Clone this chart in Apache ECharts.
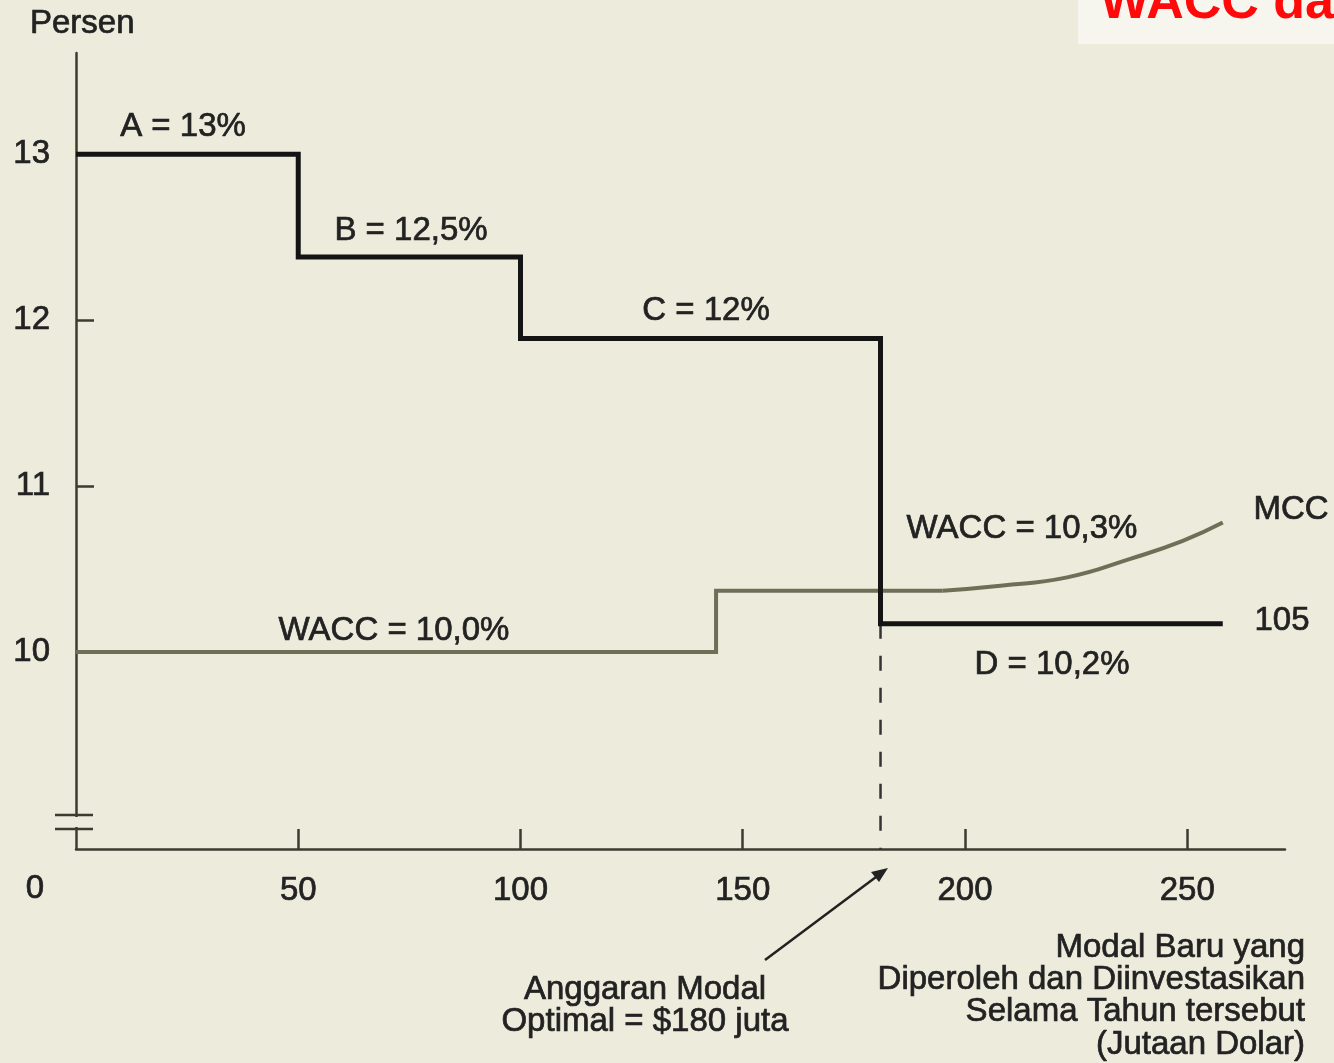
<!DOCTYPE html>
<html>
<head>
<meta charset="utf-8">
<title>MCC dan IOS</title>
<script src="https://cdn.jsdelivr.net/npm/echarts@6.0.0/dist/echarts.min.js"></script>
<style>
html, body { margin: 0; padding: 0; background: #ecebdc; }
#main { width: 1334px; height: 1063px; }
</style>
</head>
<body>
<div id="main"></div>
<script>
// label sumbu
var xTicks = [50, 100, 150, 200, 250];
var yTicks = [10, 11, 12, 13];

// IOS - garis hitam bertingkat (A, B, C, D)
var iosX = [0, 50, 50, 100, 100, 181, 181, 258];
var iosY = [13.0, 13.0, 12.38, 12.38, 11.89, 11.89, 10.17, 10.17];

// MCC - bagian datar (WACC 10,0% lalu 10,3%)
var mccX = [0, 144, 144, 195];
var mccY = [10.0, 10.0, 10.37, 10.37];
// MCC - bagian melengkung
var mccCurveX = [195, 208, 223, 237, 249, 258];
var mccCurveY = [10.37, 10.40, 10.45, 10.56, 10.67, 10.78];

// anggaran modal optimal
var optimalX = 181;
var optimalY = 10.17;

var yMin = 8.813, yMax = 13.61;

function pairs(xs, ys) {
  return xs.map(function (x, i) { return [x, ys[i]]; });
}

var font = 'Liberation Sans, Arial, sans-serif';
var ink = '#222';
var axisColor = '#3b3b30';
var bg = '#ecebdc';

function txt(x, y, s, align) {
  return {
    type: 'text', x: x, y: y, silent: true,
    style: {
      text: s, fill: ink, font: '33px ' + font, align: align || 'center', verticalAlign: 'middle',
      stroke: ink, lineWidth: 0.7
    }
  };
}

var myChart = echarts.init(document.getElementById('main'));

myChart.setOption({
  backgroundColor: bg,
  animation: false,
  grid: { left: 76, right: 49, top: 53, bottom: 214, outerBoundsMode: 'none' },
  xAxis: {
    type: 'value', min: 0, max: 272,
    axisLine: { show: true, lineStyle: { color: axisColor, width: 2.5 } },
    axisTick: { show: true, inside: true, length: 20, customValues: xTicks, lineStyle: { color: axisColor, width: 2.5 } },
    axisLabel: {
      customValues: xTicks, margin: 25, fontSize: 33, fontFamily: font, color: ink,
      textBorderColor: ink, textBorderWidth: 0.7
    },
    splitLine: { show: false }
  },
  yAxis: {
    type: 'value', min: yMin, max: yMax,
    axisLine: { show: true, lineStyle: { color: axisColor, width: 2.5 } },
    axisTick: { show: true, inside: true, length: 18, customValues: yTicks, lineStyle: { color: axisColor, width: 2.5 } },
    axisLabel: {
      customValues: yTicks, margin: 26, fontSize: 33, fontFamily: font, color: ink,
      textBorderColor: ink, textBorderWidth: 0.7, padding: [6, 0, 0, 0]
    },
    splitLine: { show: false }
  },
  series: [
    {
      name: 'IOS', type: 'line', data: pairs(iosX, iosY), showSymbol: false, z: 5,
      lineStyle: { color: '#141414', width: 5, join: 'miter' }
    },
    {
      name: 'MCC', type: 'line', data: pairs(mccX, mccY), showSymbol: false, z: 4,
      lineStyle: { color: '#6f6f58', width: 4, join: 'miter' }
    },
    {
      name: 'MCC2', type: 'line', data: pairs(mccCurveX, mccCurveY), showSymbol: false, smooth: true, z: 4,
      lineStyle: { color: '#6f6f58', width: 4 }
    },
    {
      name: 'optimal', type: 'line', data: [[optimalX, optimalY], [optimalX, yMin]], showSymbol: false, z: 3,
      lineStyle: { color: '#333', width: 2.5, type: [15, 17] }
    }
  ]
});

// teks, patahan sumbu, panah
var g = [];
// kotak judul merah (terpotong)
g.push({ type: 'rect', shape: { x: 1078, y: 0, width: 256, height: 44 }, style: { fill: '#f6f5ee' }, silent: true });
g.push({ type: 'text', x: 1100, y: 4, silent: true,
  style: { text: 'WACC da', fill: '#ff0a0a', font: 'bold 52px ' + font, verticalAlign: 'middle' } });

g.push(txt(30, 24, 'Persen', 'left'));
g.push(txt(35, 889, '0'));
g.push(txt(183, 127, 'A = 13%'));
g.push(txt(411, 231, 'B = 12,5%'));
g.push(txt(706, 311, 'C = 12%'));
g.push(txt(1022, 529, 'WACC = 10,3%'));
g.push(txt(1291, 510, 'MCC'));
g.push(txt(1282, 621, '105'));
g.push(txt(1052, 665, 'D = 10,2%'));
g.push(txt(394, 631, 'WACC = 10,0%'));
g.push(txt(645, 990, 'Anggaran Modal'));
g.push(txt(645, 1022, 'Optimal = $180 juta'));
g.push(txt(1305, 948, 'Modal Baru yang', 'right'));
g.push(txt(1305, 980, 'Diperoleh dan Diinvestasikan', 'right'));
g.push(txt(1305, 1012, 'Selama Tahun tersebut', 'right'));
g.push(txt(1305, 1045, '(Jutaan Dolar)', 'right'));

// patahan sumbu y
g.push({ type: 'rect', shape: { x: 70, y: 817, width: 12, height: 10 }, style: { fill: bg }, silent: true, z: 10 });
g.push({ type: 'line', shape: { x1: 55, y1: 815, x2: 93, y2: 815 }, style: { stroke: axisColor, lineWidth: 2.5 }, silent: true, z: 11 });
g.push({ type: 'line', shape: { x1: 55, y1: 829, x2: 93, y2: 829 }, style: { stroke: axisColor, lineWidth: 2.5 }, silent: true, z: 11 });

// panah ke anggaran optimal
g.push({ type: 'line', shape: { x1: 765, y1: 960, x2: 876, y2: 877 }, style: { stroke: '#222', lineWidth: 2.5 }, silent: true });
g.push({ type: 'polygon', shape: { points: [[888, 868], [879, 882], [871, 872]] }, style: { fill: '#222' }, silent: true });

myChart.setOption({ graphic: g });
</script>
</body>
</html>
